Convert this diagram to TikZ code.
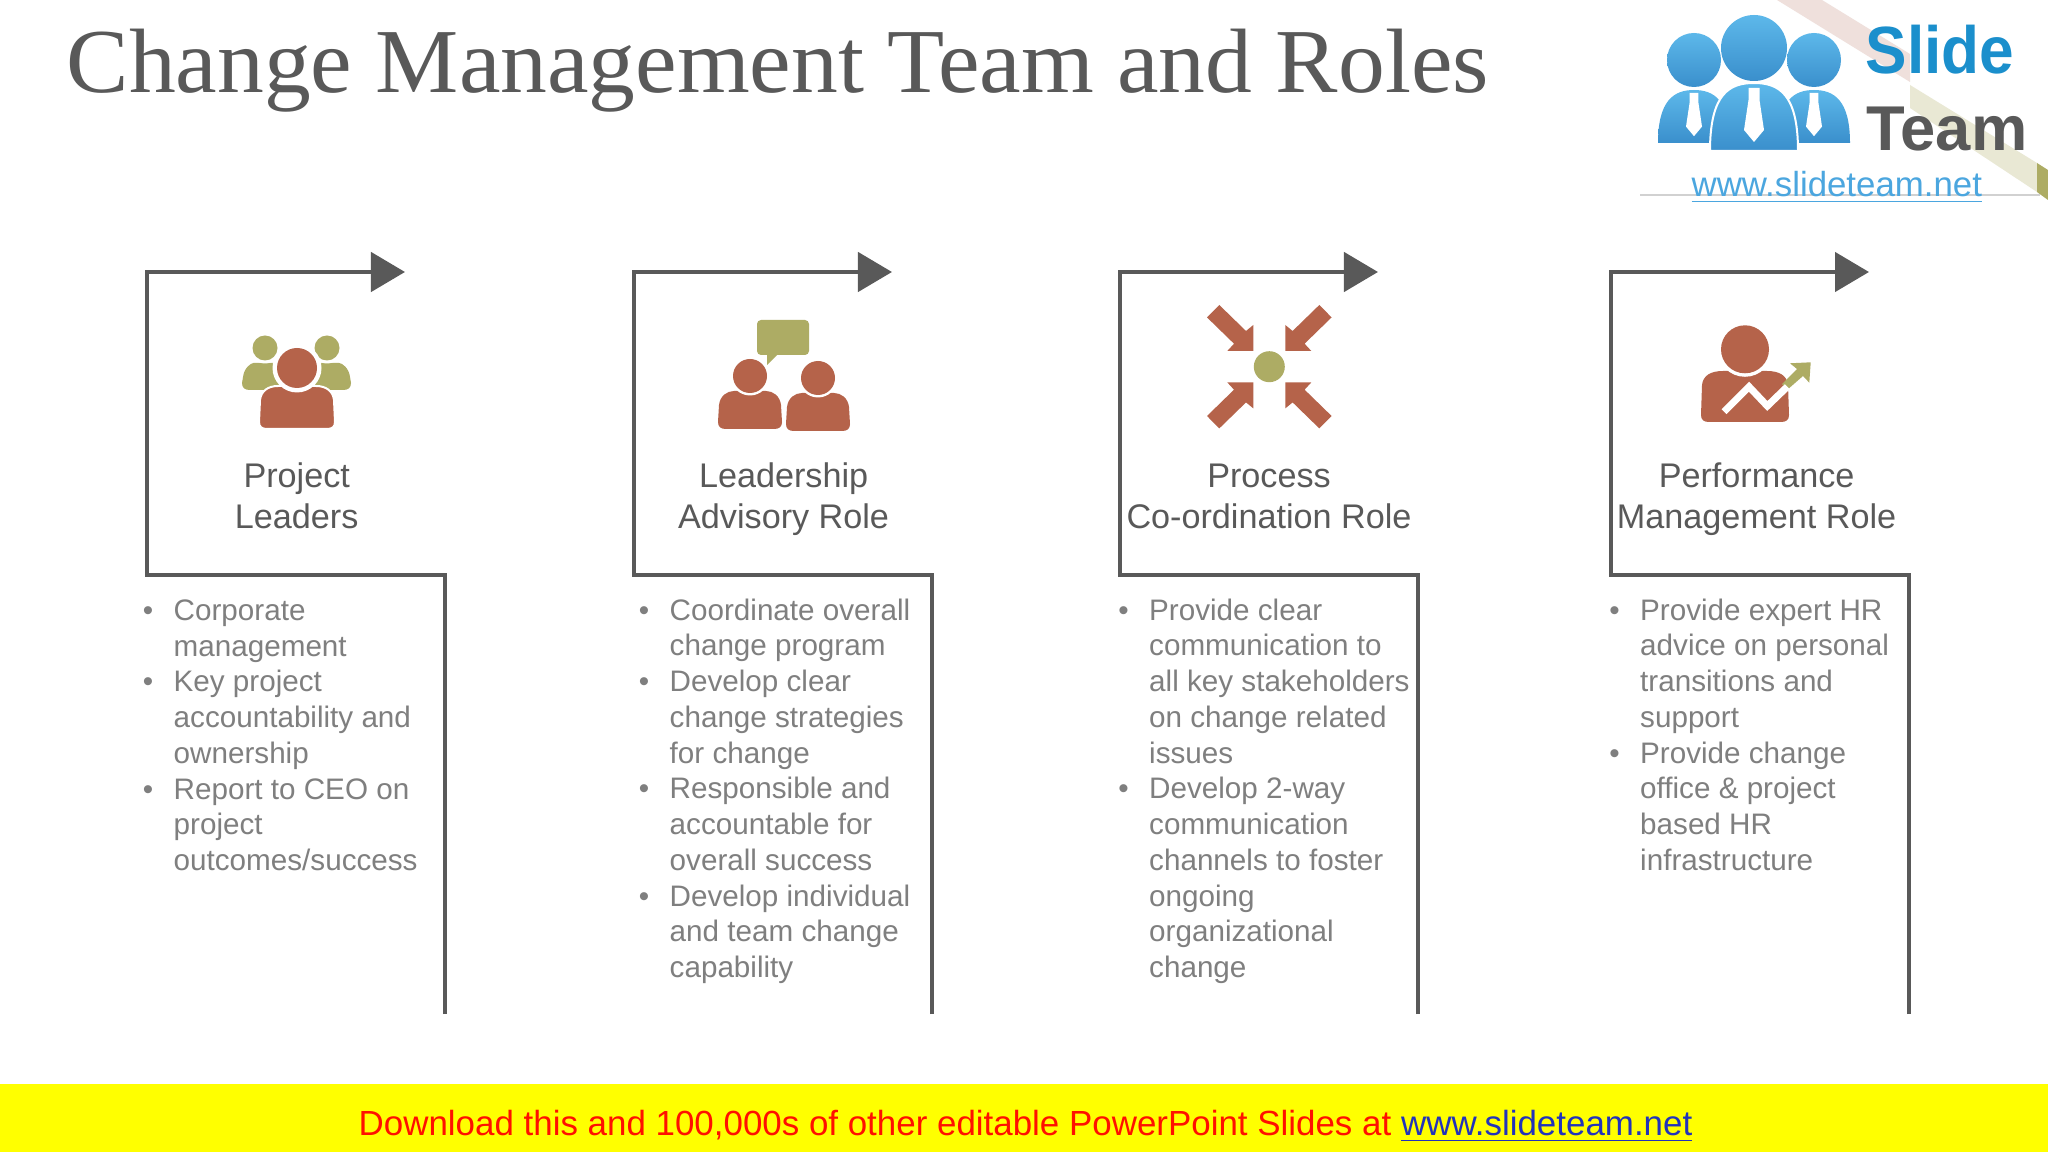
\documentclass[tikz,border=0pt]{standalone}
\usepackage{fontspec}
\setmainfont{Liberation Sans}
\newfontfamily\titlefont{Liberation Serif}
\usetikzlibrary{arrows.meta}
\definecolor{linegray}{HTML}{595959}
\definecolor{bodygray}{HTML}{7F7F7F}
\definecolor{iconred}{HTML}{B5634A}
\definecolor{iconolive}{HTML}{ADAC64}
\definecolor{logoblue}{HTML}{4BA6DF}
\definecolor{logotop}{HTML}{5DB8EA}
\definecolor{logobot}{HTML}{3A8FCC}
\definecolor{slideblue}{HTML}{1B8FCC}
\definecolor{stripepink}{HTML}{EFE0DC}
\definecolor{stripeolive}{HTML}{E9E8D4}
\definecolor{banneryellow}{HTML}{FFFF00}
\definecolor{bannerred}{HTML}{FF1000}
\definecolor{bannerblue}{HTML}{2233BB}
\tikzset{
  stepline/.style={draw=linegray,line width=0.045cm,-{Triangle[length=0.34cm,width=0.39cm]}},
  headtext/.style={text=linegray,font=\fontsize{9.72}{11.66}\selectfont,align=center,anchor=north},
  bodytext/.style={text=bodygray,font=\fontsize{8.43}{10.16}\selectfont,align=left,anchor=north west,inner sep=0pt},
  logoshade/.style={top color=logotop,bottom color=logobot},
}
% body of a person: options, centre x, top, bottom, half width
\newcommand{\personbody}[5]{\fill[#1] (#2-#5,#4-7) .. controls (#2-#5,#4-2) and (#2-#5+3,#4) .. (#2-#5+8,#4) -- (#2+#5-8,#4) .. controls (#2+#5-3,#4) and (#2+#5,#4-2) .. (#2+#5,#4-7) -- (#2+#5-1,#3+14) .. controls (#2+#5-2,#3+5) and (#2+#5-9,#3) .. (#2+#5*0.5,#3) -- (#2-#5*0.5,#3) .. controls (#2-#5+9,#3) and (#2-#5+2,#3+5) .. (#2-#5+1,#3+14) -- cycle;}
% head with a white ring: colour, centre x, centre y, radius, ring
\newcommand{\personhead}[5]{\fill[white] (#2,#3) circle (#4+#5);\fill[#1] (#2,#3) circle (#4);}
% dome of the logo: options, centre x, top, bottom, half width
\newcommand{\logobody}[5]{\path[#1] (#2-#5,#4) .. controls (#2-#5,#3+10) and (#2-#5*0.55,#3) .. (#2,#3) .. controls (#2+#5*0.55,#3) and (#2+#5,#3+10) .. (#2+#5,#4) -- cycle;}
\newcommand{\logotie}[3]{\fill[white] (#1-#3*0.55,#2) -- (#1+#3*0.55,#2) -- (#1+#3*0.55,#2+#3*1.2) -- (#1+#3,#2+#3*4.2) -- (#1,#2+#3*5.4) -- (#1-#3,#2+#3*4.2) -- (#1-#3*0.55,#2+#3*1.2) -- cycle;}
\begin{document}
\begin{tikzpicture}[x=0.01cm,y=-0.01cm]
\useasboundingbox (0,0) rectangle (2048,1152);
\fill[white] (0,0) rectangle (2048,1152);
\node[text=linegray,anchor=base west,inner sep=0pt,xscale=1.023,font=\titlefont\fontsize{26}{30}\selectfont] (title) at (66,93) {Change Management Team and Roles};
% logo
\fill[stripepink] (1777,0) -- (1822,0) -- (1910,54) -- (1910,82) -- cycle;
\fill[stripeolive] (1910,85) -- (2037,163) -- (2037,192) -- (1910,108) -- cycle;
\fill[iconolive] (2037,163) -- (2048,170) -- (2048,200) -- (2037,192) -- cycle;
\draw[black!18] (1640,195) -- (2040,195);
\logobody{logoshade}{1694}{90}{143}{36}
\logobody{logoshade}{1814}{90}{143}{36}
\shade[logoshade] (1694,60) circle (27);\shade[logoshade] (1814,60) circle (27);
\logotie{1694}{93}{8}\logotie{1814}{93}{8}
\logobody{logoshade,draw=white,line width=0.02cm}{1754}{83}{151}{44}
\shade[logoshade] (1754,48) circle (33);
\logotie{1754}{88}{10}
\node[text=slideblue,anchor=base west,inner sep=0pt,xscale=0.93,font=\bfseries\fontsize{19}{22}\selectfont] (slide) at (1865,74) {Slide};
\node[text=linegray,anchor=base west,inner sep=0pt,xscale=1,font=\bfseries\fontsize{18}{22}\selectfont] (team) at (1866,151) {Team};
\node[text=logoblue,anchor=base west,inner sep=0pt,font=\fontsize{9.9}{12}\selectfont] (logourl) at (1691,196.5) {\underline{www.slideteam.net}};
% the four step lines
\foreach \l/\r/\t/\n in {147/445/405/a,634/932/892/b,1120/1418/1378/c,1611/1909/1869/d}{
  \coordinate (end\n) at (\r,1014);
  \coordinate (tip\n) at (\t,272);
  \draw[stepline] (end\n) |- (\l,575) |- (tip\n);
}
% icon 1
\personbody{iconolive}{265}{363}{390}{23}
\personbody{iconolive}{327}{363}{390}{24}
\personhead{iconolive}{265}{348}{12.5}{3}
\personhead{iconolive}{327}{348}{12.5}{3}
\personbody{draw=white,line width=0.02cm,fill=iconred}{297}{386}{429}{38}
\personhead{iconred}{297}{368}{20}{4.5}
% icon 2
\fill[iconolive,rounded corners=0.04cm] (757,320) rectangle (809,355);
\fill[iconolive] (767,354) -- (767,365) -- (778,354) -- cycle;
\personbody{iconred}{750}{391}{429}{32}
\personhead{iconred}{750}{376}{17}{2.5}
\personbody{iconred}{818}{393}{431}{32}
\personhead{iconred}{818}{378}{17}{2.5}
% icon 3
\fill[iconolive] (1269.3,366.7) circle (15.5);
\foreach \sx/\sy in {1/1,-1/1,1/-1,-1/-1}{
  \begin{scope}[shift={(1269.3,366.7)},xscale=\sx,yscale=\sy]
  \fill[iconred] (-50,-61.7) -- (-23.3,-35.7) -- (-16,-41.7) -- (-16,-15.7) -- (-42,-15.7) -- (-35.3,-23) -- (-62.3,-49.3) -- cycle;
  \end{scope}
}
% icon 4
\personbody{iconred}{1745}{371}{422}{44}
\personhead{iconred}{1745}{349.3}{24}{3.5}
\fill[iconolive] (1787,390) -- (1782,384) -- (1797,369) -- (1790,363.3) -- (1810.7,362.3) -- (1809.3,382.7) -- (1803,376) -- cycle;
\draw[white,line width=0.07cm] (1724,411.7) -- (1749,386.7) -- (1767.3,406) -- (1787.3,386.7);
% headings
\newcommand{\hgt}{\vphantom{Ap}}
\node[headtext] (heada) at (296.7,450) {\hgt Project\\Leaders};
\node[headtext] (headb) at (783.6,450) {\hgt Leadership\\Advisory Role};
\node[headtext] (headc) at (1269,452) {\hgt Process\\Co-ordination Role};
\node[headtext] (headd) at (1756.6,450) {\hgt Performance\\Management Role};
% bullet lists
\newcommand{\itm}{\hgt\llap{\textbullet\hspace{5.8pt}}}
\node[bodytext] (lista) at (173,599) {\itm Corporate\\management\\\itm Key project\\accountability and\\ownership\\\itm Report to CEO on\\project\\outcomes/success};
\node[bodytext] (listb) at (669,598) {\itm Coordinate overall\\change program\\\itm Develop clear\\change strategies\\for change\\\itm Responsible and\\accountable for\\overall success\\\itm Develop individual\\and team change\\capability};
\node[bodytext] (listc) at (1148.5,598) {\itm Provide clear\\communication to\\all key stakeholders\\on change related\\issues\\\itm Develop 2-way\\communication\\channels to foster\\ongoing\\organizational\\change};
\node[bodytext] (listd) at (1639.5,598) {\itm Provide expert HR\\advice on personal\\transitions and\\support\\\itm Provide change\\office \& project\\based HR\\infrastructure};
% banner
\fill[banneryellow] (0,1084) rectangle (2048,1152);
\node[anchor=base west,inner sep=0pt,text=bannerred,font=\fontsize{9.93}{11}\selectfont] (bannertext) at (358,1135) {Download this and 100,000s of other editable PowerPoint Slides at \textcolor{bannerblue}{\underline{www.slideteam.net}}};
\end{tikzpicture}
\end{document}
